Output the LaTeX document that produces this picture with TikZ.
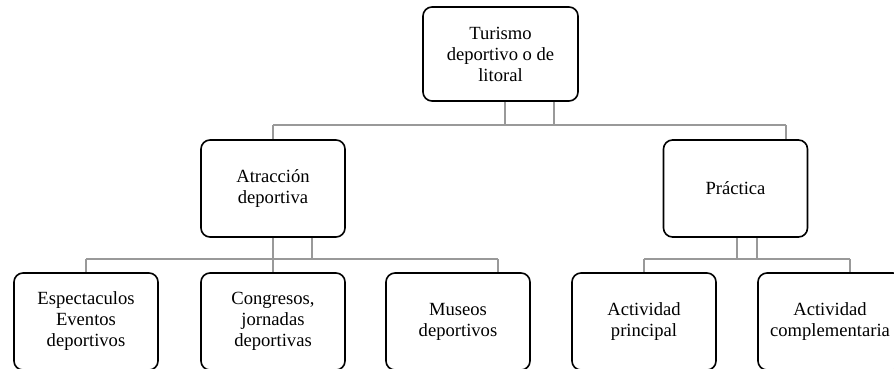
\documentclass[tikz,border=0pt]{standalone}
\usepackage{fontspec}
\setmainfont{Liberation Serif}
\tikzset{
  caja/.style = {draw, rounded corners=9pt, line width=1.6pt, align=center, fill=white,
    minimum width=144pt, minimum height=97pt, inner sep=2pt,
    font=\fontsize{18.6}{21}\selectfont},
  linea/.style = {draw=gray!80, line width=1.7pt},
}
\begin{document}
\begin{tikzpicture}[x=1pt,y=-1pt]
\useasboundingbox (0,0) rectangle (894,369);
\clip (0,0) rectangle (894,369);
\node[caja, minimum width=155pt, minimum height=94pt] (tur) at (500.5,54) {Turismo\\deportivo o de\\litoral};
\node[caja] (atr) at (273,188.5) {Atracción\\deportiva};
\node[caja] (pra) at (735.5,188.5) {Práctica};
\node[caja] (esp) at (86,321.5) {Espectaculos\\Eventos\\deportivos};
\node[caja] (con) at (273,321.5) {Congresos,\\jornadas\\deportivas};
\node[caja] (mus) at (458,321.5) {Museos\\deportivos};
\node[caja] (pri) at (644,321.5) {Actividad\\principal};
\node[caja] (com) at (830,321.5) {Actividad\\complementaria};
% primer nivel
\coordinate (b1) at (273,125);
\coordinate (b2) at (786,125);
\coordinate (s1) at (505,125);
\coordinate (s2) at (554,125);
\draw[linea] (b1) -- (b2);
\draw[linea] (s1 |- tur.south) -- (s1);
\draw[linea] (s2 |- tur.south) -- (s2);
\draw[linea] (b1) -- (b1 |- atr.north);
\draw[linea] (b2) -- (b2 |- pra.north);
% segundo nivel, izquierda
\coordinate (c1) at (86,259);
\coordinate (c2) at (498,259);
\coordinate (c3) at (273,259);
\coordinate (c4) at (312,259);
\draw[linea] (c1) -- (c2);
\draw[linea] (c3 |- atr.south) -- (c3);
\draw[linea] (c4 |- atr.south) -- (c4);
\draw[linea] (c1) -- (c1 |- esp.north);
\draw[linea] (c3) -- (c3 |- con.north);
\draw[linea] (c2) -- (c2 |- mus.north);
% segundo nivel, derecha
\coordinate (d1) at (644,259);
\coordinate (d2) at (850,259);
\coordinate (d3) at (737,259);
\coordinate (d4) at (757,259);
\draw[linea] (d1) -- (d2);
\draw[linea] (d3 |- pra.south) -- (d3);
\draw[linea] (d4 |- pra.south) -- (d4);
\draw[linea] (d1) -- (d1 |- pri.north);
\draw[linea] (d2) -- (d2 |- com.north);
\end{tikzpicture}
\end{document}
